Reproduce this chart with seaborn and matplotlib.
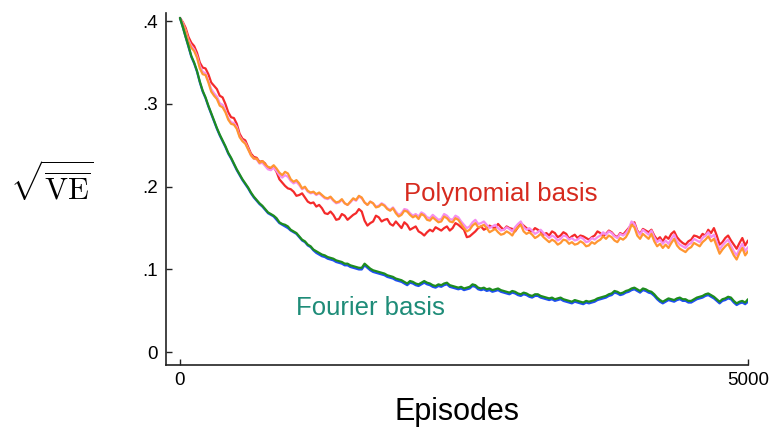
import numpy as np
import pandas as pd
import seaborn as sns
import matplotlib
matplotlib.use("Agg")
import matplotlib.pyplot as plt

# Episode grid (every 25 episodes from 0 to 5000)
episodes = list(range(0, 5001, 25))

# sqrt(VE) learning curves, one value per grid point
poly_red = [
    0.404, 0.399, 0.392, 0.381, 0.374, 0.370, 0.362, 0.350, 0.344, 0.343,
    0.336, 0.326, 0.322, 0.318, 0.310, 0.308, 0.300, 0.290, 0.284, 0.283,
    0.276, 0.264, 0.258, 0.256, 0.248, 0.240, 0.236, 0.235, 0.230, 0.231,
    0.228, 0.222, 0.222, 0.224, 0.218, 0.209, 0.205, 0.201, 0.198, 0.197,
    0.194, 0.189, 0.190, 0.192, 0.187, 0.182, 0.180, 0.181, 0.176, 0.178,
    0.174, 0.168, 0.167, 0.170, 0.166, 0.160, 0.161, 0.167, 0.165, 0.160,
    0.163, 0.166, 0.168, 0.173, 0.170, 0.159, 0.153, 0.156, 0.158, 0.165,
    0.163, 0.158, 0.160, 0.161, 0.155, 0.153, 0.158, 0.154, 0.150, 0.157,
    0.154, 0.148, 0.150, 0.152, 0.146, 0.144, 0.141, 0.145, 0.148, 0.146,
    0.151, 0.149, 0.147, 0.150, 0.152, 0.147, 0.150, 0.156, 0.154, 0.151,
    0.148, 0.139, 0.140, 0.143, 0.146, 0.150, 0.152, 0.148, 0.150, 0.153,
    0.151, 0.150, 0.155, 0.151, 0.148, 0.152, 0.150, 0.149, 0.146, 0.151,
    0.156, 0.153, 0.150, 0.147, 0.146, 0.150, 0.148, 0.146, 0.142, 0.144,
    0.141, 0.146, 0.144, 0.139, 0.141, 0.145, 0.143, 0.137, 0.140, 0.142,
    0.138, 0.141, 0.140, 0.138, 0.136, 0.139, 0.141, 0.146, 0.144, 0.140,
    0.143, 0.147, 0.145, 0.141, 0.139, 0.144, 0.142, 0.146, 0.150, 0.154,
    0.157, 0.147, 0.143, 0.149, 0.147, 0.145, 0.148, 0.141, 0.136, 0.139,
    0.134, 0.140, 0.137, 0.143, 0.146, 0.139, 0.135, 0.132, 0.130, 0.134,
    0.136, 0.141, 0.140, 0.138, 0.143, 0.141, 0.148, 0.144, 0.150, 0.141,
    0.130, 0.133, 0.138, 0.141, 0.135, 0.130, 0.125, 0.132, 0.138, 0.129,
    0.135,
]
poly_pink = [
    0.404, 0.398, 0.389, 0.377, 0.370, 0.366, 0.358, 0.346, 0.339, 0.337,
    0.328, 0.318, 0.313, 0.309, 0.301, 0.299, 0.292, 0.283, 0.278, 0.277,
    0.272, 0.261, 0.256, 0.253, 0.246, 0.238, 0.234, 0.233, 0.228, 0.229,
    0.225, 0.221, 0.220, 0.223, 0.219, 0.214, 0.211, 0.214, 0.212, 0.207,
    0.204, 0.206, 0.202, 0.197, 0.199, 0.194, 0.192, 0.193, 0.190, 0.192,
    0.189, 0.186, 0.185, 0.187, 0.183, 0.180, 0.181, 0.184, 0.180, 0.178,
    0.181, 0.185, 0.183, 0.188, 0.186, 0.181, 0.178, 0.182, 0.180, 0.176,
    0.177, 0.180, 0.178, 0.174, 0.172, 0.175, 0.170, 0.166, 0.168, 0.173,
    0.172, 0.168, 0.165, 0.167, 0.164, 0.169, 0.167, 0.163, 0.162, 0.166,
    0.163, 0.160, 0.161, 0.167, 0.165, 0.161, 0.160, 0.165, 0.163, 0.158,
    0.154, 0.150, 0.152, 0.157, 0.160, 0.155, 0.156, 0.158, 0.154, 0.150,
    0.152, 0.154, 0.150, 0.147, 0.148, 0.151, 0.149, 0.146, 0.151, 0.155,
    0.158, 0.151, 0.148, 0.150, 0.147, 0.143, 0.145, 0.148, 0.144, 0.141,
    0.138, 0.141, 0.139, 0.135, 0.137, 0.141, 0.140, 0.136, 0.138, 0.135,
    0.136, 0.139, 0.137, 0.133, 0.134, 0.138, 0.136, 0.139, 0.141, 0.145,
    0.142, 0.146, 0.144, 0.140, 0.138, 0.143, 0.141, 0.144, 0.149, 0.158,
    0.155, 0.146, 0.142, 0.148, 0.145, 0.142, 0.147, 0.139, 0.133, 0.136,
    0.131, 0.135, 0.131, 0.137, 0.142, 0.134, 0.130, 0.128, 0.126, 0.130,
    0.132, 0.137, 0.135, 0.133, 0.138, 0.141, 0.145, 0.139, 0.142, 0.133,
    0.124, 0.129, 0.133, 0.136, 0.129, 0.122, 0.117, 0.125, 0.131, 0.122,
    0.127,
]
poly_orange = [
    0.404, 0.397, 0.388, 0.375, 0.368, 0.364, 0.356, 0.343, 0.336, 0.335,
    0.326, 0.315, 0.310, 0.306, 0.298, 0.296, 0.290, 0.281, 0.276, 0.275,
    0.270, 0.260, 0.255, 0.252, 0.245, 0.238, 0.234, 0.234, 0.229, 0.231,
    0.227, 0.224, 0.223, 0.226, 0.222, 0.217, 0.214, 0.218, 0.216, 0.209,
    0.206, 0.208, 0.204, 0.198, 0.200, 0.195, 0.193, 0.194, 0.191, 0.193,
    0.190, 0.187, 0.186, 0.188, 0.184, 0.181, 0.182, 0.185, 0.180, 0.178,
    0.182, 0.186, 0.184, 0.189, 0.187, 0.181, 0.178, 0.182, 0.180, 0.175,
    0.176, 0.179, 0.177, 0.173, 0.171, 0.174, 0.168, 0.164, 0.166, 0.171,
    0.170, 0.166, 0.163, 0.165, 0.161, 0.167, 0.165, 0.160, 0.159, 0.163,
    0.160, 0.157, 0.158, 0.164, 0.162, 0.158, 0.157, 0.162, 0.160, 0.155,
    0.150, 0.146, 0.148, 0.153, 0.156, 0.151, 0.152, 0.154, 0.150, 0.145,
    0.147, 0.149, 0.145, 0.142, 0.143, 0.146, 0.144, 0.141, 0.147, 0.151,
    0.154, 0.146, 0.143, 0.145, 0.142, 0.138, 0.140, 0.143, 0.139, 0.136,
    0.133, 0.136, 0.134, 0.130, 0.132, 0.136, 0.135, 0.131, 0.133, 0.130,
    0.131, 0.134, 0.132, 0.128, 0.129, 0.133, 0.131, 0.134, 0.136, 0.140,
    0.137, 0.141, 0.139, 0.135, 0.133, 0.138, 0.136, 0.139, 0.145, 0.154,
    0.151, 0.141, 0.137, 0.143, 0.140, 0.137, 0.143, 0.134, 0.128, 0.131,
    0.126, 0.130, 0.126, 0.132, 0.137, 0.129, 0.125, 0.123, 0.121, 0.125,
    0.127, 0.132, 0.130, 0.128, 0.133, 0.136, 0.140, 0.134, 0.137, 0.128,
    0.119, 0.124, 0.128, 0.131, 0.124, 0.117, 0.112, 0.120, 0.126, 0.117,
    0.122,
]
fourier_blue = [
    0.404, 0.393, 0.381, 0.369, 0.357, 0.349, 0.339, 0.326, 0.315, 0.307,
    0.297, 0.288, 0.279, 0.270, 0.262, 0.255, 0.248, 0.240, 0.234, 0.227,
    0.220, 0.214, 0.208, 0.203, 0.198, 0.192, 0.187, 0.183, 0.179, 0.176,
    0.172, 0.168, 0.166, 0.164, 0.160, 0.156, 0.154, 0.152, 0.150, 0.147,
    0.145, 0.143, 0.139, 0.135, 0.133, 0.129, 0.127, 0.123, 0.120, 0.118,
    0.116, 0.115, 0.113, 0.112, 0.111, 0.109, 0.108, 0.107, 0.105, 0.105,
    0.103, 0.102, 0.101, 0.100, 0.100, 0.105, 0.102, 0.099, 0.097, 0.096,
    0.095, 0.094, 0.093, 0.091, 0.090, 0.089, 0.087, 0.086, 0.085, 0.083,
    0.081, 0.084, 0.083, 0.081, 0.080, 0.082, 0.084, 0.082, 0.081, 0.079,
    0.078, 0.080, 0.079, 0.081, 0.082, 0.079, 0.078, 0.077, 0.076, 0.077,
    0.075, 0.076, 0.077, 0.080, 0.079, 0.076, 0.075, 0.076, 0.074, 0.075,
    0.073, 0.074, 0.075, 0.073, 0.072, 0.071, 0.070, 0.072, 0.071, 0.069,
    0.068, 0.070, 0.069, 0.067, 0.066, 0.068, 0.068, 0.066, 0.065, 0.064,
    0.063, 0.064, 0.062, 0.063, 0.064, 0.062, 0.061, 0.060, 0.059, 0.061,
    0.060, 0.059, 0.058, 0.060, 0.059, 0.060, 0.061, 0.063, 0.064, 0.065,
    0.066, 0.068, 0.069, 0.072, 0.071, 0.069, 0.070, 0.072, 0.073, 0.075,
    0.076, 0.074, 0.072, 0.075, 0.074, 0.072, 0.071, 0.068, 0.064, 0.061,
    0.059, 0.061, 0.063, 0.062, 0.061, 0.063, 0.064, 0.062, 0.062, 0.060,
    0.060, 0.062, 0.064, 0.065, 0.066, 0.068, 0.069, 0.067, 0.065, 0.062,
    0.059, 0.062, 0.063, 0.065, 0.064, 0.060, 0.057, 0.059, 0.060, 0.058,
    0.061,
]
fourier_green = [
    0.404, 0.393, 0.381, 0.370, 0.358, 0.350, 0.340, 0.327, 0.316, 0.308,
    0.298, 0.289, 0.280, 0.271, 0.263, 0.256, 0.249, 0.241, 0.235, 0.228,
    0.221, 0.215, 0.209, 0.204, 0.199, 0.193, 0.188, 0.184, 0.180, 0.177,
    0.173, 0.169, 0.167, 0.165, 0.162, 0.157, 0.155, 0.154, 0.152, 0.148,
    0.146, 0.144, 0.140, 0.136, 0.134, 0.130, 0.128, 0.124, 0.122, 0.120,
    0.118, 0.117, 0.115, 0.114, 0.113, 0.111, 0.110, 0.109, 0.107, 0.107,
    0.105, 0.104, 0.103, 0.102, 0.102, 0.107, 0.104, 0.101, 0.099, 0.098,
    0.097, 0.096, 0.095, 0.093, 0.092, 0.091, 0.089, 0.088, 0.087, 0.085,
    0.083, 0.086, 0.085, 0.083, 0.082, 0.084, 0.086, 0.084, 0.083, 0.081,
    0.080, 0.082, 0.081, 0.083, 0.084, 0.081, 0.080, 0.079, 0.078, 0.079,
    0.077, 0.078, 0.079, 0.082, 0.081, 0.078, 0.077, 0.078, 0.076, 0.077,
    0.075, 0.076, 0.077, 0.075, 0.074, 0.073, 0.072, 0.074, 0.073, 0.071,
    0.070, 0.072, 0.071, 0.069, 0.068, 0.070, 0.070, 0.068, 0.067, 0.066,
    0.065, 0.066, 0.064, 0.065, 0.066, 0.064, 0.063, 0.062, 0.061, 0.063,
    0.062, 0.061, 0.060, 0.062, 0.061, 0.062, 0.063, 0.065, 0.066, 0.067,
    0.068, 0.070, 0.071, 0.074, 0.073, 0.071, 0.072, 0.074, 0.075, 0.077,
    0.078, 0.076, 0.074, 0.077, 0.076, 0.074, 0.073, 0.070, 0.066, 0.063,
    0.061, 0.063, 0.065, 0.064, 0.063, 0.065, 0.066, 0.064, 0.064, 0.062,
    0.062, 0.064, 0.066, 0.067, 0.068, 0.070, 0.071, 0.069, 0.067, 0.064,
    0.061, 0.064, 0.065, 0.067, 0.066, 0.062, 0.059, 0.061, 0.062, 0.060,
    0.064,
]

series_names = ["poly_red", "poly_pink", "poly_orange", "fourier_blue", "fourier_green"]
series_values = [poly_red, poly_pink, poly_orange, fourier_blue, fourier_green]
series_colors = ["#f42a2a", "#f58ef0", "#ff9632", "#1f4ff2", "#1e8c1e"]

y_ticks = [0.0, 0.1, 0.2, 0.3, 0.4]
y_tick_labels = ["0", ".1", ".2", ".3", ".4"]
x_ticks = [0, 5000]
x_tick_labels = ["0", "5000"]

df = pd.concat(
    [pd.DataFrame({"Episodes": episodes, "value": vals, "series": name})
     for name, vals in zip(series_names, series_values)],
    ignore_index=True,
)

sns.set_style("ticks")
plt.rcParams["font.family"] = ["Liberation Sans", "DejaVu Sans"]
plt.rcParams["mathtext.fontset"] = "cm"

fig = plt.figure(figsize=(7.71, 4.33), dpi=100)
ax = fig.add_axes([166 / 771, 68 / 433, (748 - 166) / 771, (365 - 13) / 433])

sns.lineplot(
    data=df, x="Episodes", y="value", hue="series",
    hue_order=series_names, palette=dict(zip(series_names, series_colors)),
    linewidth=1.6, legend=False, ax=ax,
)

ax.set_xlim(-123, 5000)
ax.set_ylim(-0.0155, 0.41)
ax.set_xticks(x_ticks)
ax.set_xticklabels(x_tick_labels)
ax.set_yticks(y_ticks)
ax.set_yticklabels(y_tick_labels)
ax.tick_params(direction="in", length=4, width=1.0, colors="#222222",
               labelsize=13.5, labelcolor="black")
ax.tick_params(axis="y", pad=6)
ax.tick_params(axis="x", pad=5)

for side in ["top", "right"]:
    ax.spines[side].set_visible(False)
for side in ["left", "bottom"]:
    ax.spines[side].set_color("#222222")
    ax.spines[side].set_linewidth(1.2)

ax.set_xlabel("Episodes", fontsize=22, labelpad=6, color="black")
ax.set_ylabel("")
fig.text(52 / 771, 1 - 185 / 433, r"$\sqrt{\overline{\mathrm{VE}}}$",
         fontsize=22, ha="center", va="center", color="black")

ax.text(1972, 0.183, "Polynomial basis", color="#d62a1e", fontsize=18.5)
ax.text(1021, 0.0445, "Fourier basis", color="#1e8c78", fontsize=18.5)

fig.savefig("out.png", dpi=100)
